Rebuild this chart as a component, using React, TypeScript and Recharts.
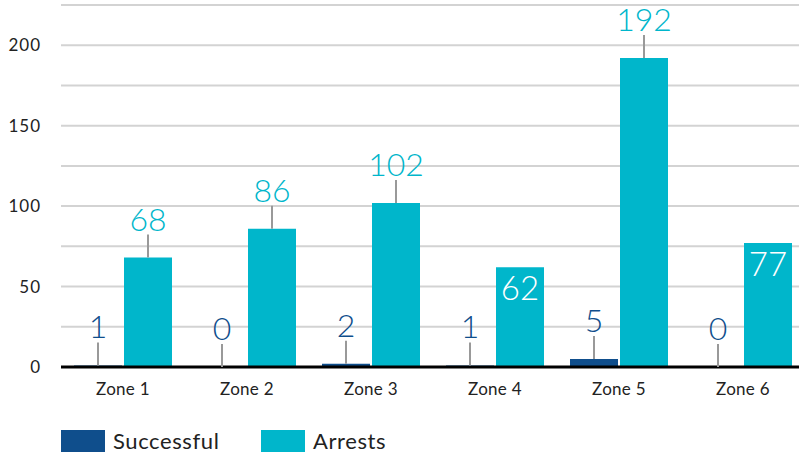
import React from 'react';
import { BarChart, Bar, XAxis, YAxis, CartesianGrid, LabelList } from 'recharts';

const zones = ['Zone 1', 'Zone 2', 'Zone 3', 'Zone 4', 'Zone 5', 'Zone 6'];
const successful = [1, 0, 2, 1, 5, 0];
const arrests = [68, 86, 102, 62, 192, 77];
// labels drawn inside the bar instead of above it
const arrestsInside = [false, false, false, true, false, true];
const yTicks = [0, 25, 50, 75, 100, 125, 150, 175, 200, 225];
const yTickLabels = ['0', '', '50', '', '100', '', '150', '', '200', ''];

const DARK = '#0f4e8c';
const CYAN = '#00b6cb';
const FONT = 'Lato, "Open Sans", sans-serif';

const data = zones.map((zone, i) => ({
  zone,
  successful: successful[i],
  arrests: arrests[i],
}));

const makeLabel = (color: string, insideFlags?: boolean[]) => (props: any) => {
  const { x, y, width, value, index } = props;
  const cx = x + width / 2;
  if (insideFlags && insideFlags[index]) {
    return (
      <text x={cx} y={y + 33} textAnchor="middle" fill="#ffffff" fontSize={33} fontWeight={300} fontFamily={FONT}>
        {value}
      </text>
    );
  }
  return (
    <g>
      <line x1={cx} y1={y} x2={cx} y2={y - 23} stroke="#999999" strokeWidth={2} />
      <text x={cx} y={y - 27} textAnchor="middle" fill={color} fontSize={32} fontWeight={300} fontFamily={FONT}>
        {value}
      </text>
    </g>
  );
};

export default function App() {
  return (
    <div style={{ position: 'absolute', left: 0, top: 0, width: 799, height: 454, overflow: 'hidden', background: '#fff' }}>
      <BarChart
        width={805}
        height={454}
        data={data}
        margin={{ top: 5, right: 0, left: 0, bottom: 47 }}
        barGap={2}
      >
        <CartesianGrid horizontal vertical={false} stroke="#d3d3d3" strokeWidth={2} />
        <XAxis
          dataKey="zone"
          height={40}
          axisLine={{ stroke: '#000', strokeWidth: 3 }}
          tickLine={false}
          tickSize={0}
          tickMargin={16}
          tick={{ fill: '#222', fontSize: 17, fontFamily: FONT, letterSpacing: 0.3 }}
        />
        <YAxis
          width={61}
          domain={[0, 225]}
          ticks={yTicks}
          interval={0}
          tickFormatter={(v: number) => yTickLabels[yTicks.indexOf(v)]}
          axisLine={false}
          tickLine={false}
          tickSize={0}
          tickMargin={20}
          tick={{ fill: '#222', fontSize: 17, fontFamily: FONT, letterSpacing: 1 }}
        />
        <Bar dataKey="successful" fill={DARK} barSize={48} minPointSize={0.01} isAnimationActive={false}>
          <LabelList dataKey="successful" content={makeLabel(DARK)} />
        </Bar>
        <Bar dataKey="arrests" fill={CYAN} barSize={48} isAnimationActive={false}>
          <LabelList dataKey="arrests" content={makeLabel(CYAN, arrestsInside)} />
        </Bar>
      </BarChart>
      <div style={{ position: 'absolute', left: 61, top: 430, height: 22, display: 'flex', alignItems: 'center', fontFamily: FONT, fontSize: 22, lineHeight: '22px', letterSpacing: 0.6, color: '#222' }}>
        <span style={{ display: 'inline-block', width: 44, height: 22, background: DARK, marginRight: 8 }} />
        <span style={{ width: 148 }}>Successful</span>
        <span style={{ display: 'inline-block', width: 44, height: 22, background: CYAN, marginRight: 8 }} />
        <span>Arrests</span>
      </div>
    </div>
  );
}
